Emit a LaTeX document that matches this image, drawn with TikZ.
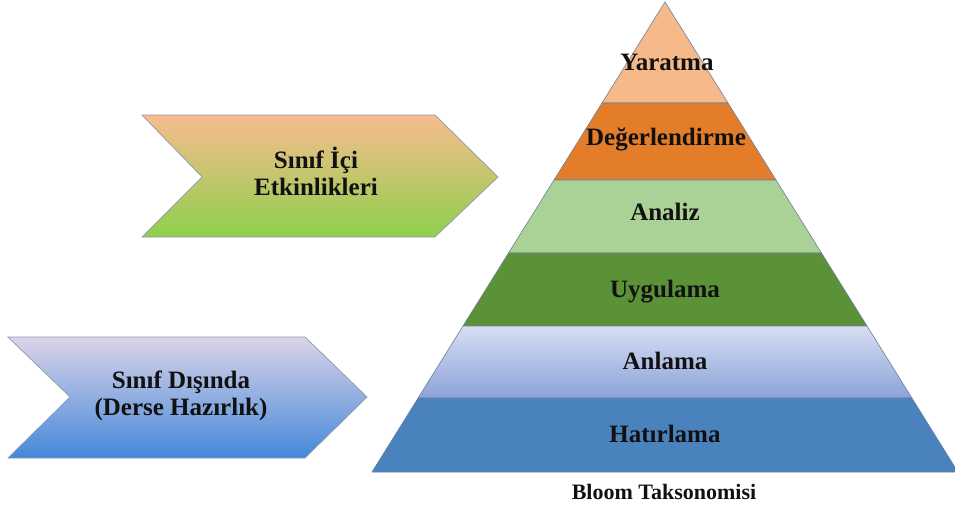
\documentclass[tikz,border=0pt]{standalone}
\usepackage{fontspec}
\setmainfont{Liberation Serif}
\usetikzlibrary{calc}
\definecolor{cYar}{HTML}{F6B98A}
\definecolor{cDeg}{HTML}{E37D2A}
\definecolor{cAna}{HTML}{ABD296}
\definecolor{cUyg}{HTML}{5B9137}
\definecolor{cAnlTop}{HTML}{D6DEF2}
\definecolor{cAnlBot}{HTML}{8CA2D8}
\definecolor{cHat}{HTML}{4A82BE}
\definecolor{cEdge}{HTML}{6F809C}
\definecolor{cGrTop}{HTML}{F8BC8E}
\definecolor{cGrBot}{HTML}{8ED04C}
\definecolor{cBlTop}{HTML}{DCD4E8}
\definecolor{cBlBot}{HTML}{4488DA}
\definecolor{cTxt}{HTML}{111111}
\tikzset{
  band/.style={draw=cEdge, line width=0.6pt, line join=miter},
  chevron/.style={draw=cEdge!80, line width=0.7pt, line join=miter},
  lbl/.style={font=\fontsize{25}{27}\selectfont\bfseries, text=cTxt, anchor=base, inner sep=0pt},
  arrlbl/.style={font=\fontsize{25}{27}\selectfont\bfseries, text=cTxt, align=center, inner sep=0pt},
  captionlbl/.style={font=\fontsize{22}{24}\selectfont\bfseries, text=cTxt, anchor=base, inner sep=0pt}
}
\begin{document}
\begin{tikzpicture}[x=1pt,y=-1pt]
\useasboundingbox (0,0) rectangle (955,509);
\fill[white] (0,0) rectangle (955,509);
% pyramid corners
\coordinate (ap) at (665,2);
\coordinate (l1) at (602.0,103);  \coordinate (r1) at (728.0,103);
\coordinate (l2) at (554.0,180);  \coordinate (r2) at (776.0,180);
\coordinate (l3) at (508.5,253);  \coordinate (r3) at (821.5,253);
\coordinate (l4) at (463.0,326);  \coordinate (r4) at (867.0,326);
\coordinate (l5) at (418.1,398);  \coordinate (r5) at (911.9,398);
\coordinate (l6) at (372.0,472);  \coordinate (r6) at (958.0,472);
% bands
\draw[band, fill=cYar] (ap) -- (r1) -- (l1) -- cycle;
\draw[band, fill=cDeg] (l1) -- (r1) -- (r2) -- (l2) -- cycle;
\draw[band, fill=cAna] (l2) -- (r2) -- (r3) -- (l3) -- cycle;
\draw[band, fill=cUyg] (l3) -- (r3) -- (r4) -- (l4) -- cycle;
\shade[top color=cAnlTop, bottom color=cAnlBot] (l4) -- (r4) -- (r5) -- (l5) -- cycle;
\draw[band] (l4) -- (r4) -- (r5) -- (l5) -- cycle;
\draw[band, fill=cHat] (l5) -- (r5) -- (r6) -- (l6) -- cycle;
% band labels
\node[lbl] (yar) at (667,70) {Yaratma};
\node[lbl] (deg) at (666,145) {Değerlendirme};
\node[lbl] (ana) at (665,220) {Analiz};
\node[lbl] (uyg) at (665,297) {Uygulama};
\node[lbl] (anl) at (665,369) {Anlama};
\node[lbl] (hat) at (665,442) {Hatırlama};
\node[captionlbl] (bloom) at (664,499) {Bloom Taksonomisi};
% green chevron
\coordinate (g1) at (142,115); \coordinate (g2) at (435,115);
\coordinate (g3) at (498,177); \coordinate (g4) at (435,237);
\coordinate (g5) at (142,237); \coordinate (g6) at (202,177);
\shade[top color=cGrTop, bottom color=cGrBot] (g1) -- (g2) -- (g3) -- (g4) -- (g5) -- (g6) -- cycle;
\draw[chevron] (g1) -- (g2) -- (g3) -- (g4) -- (g5) -- (g6) -- cycle;
\node[arrlbl] (sinif) at (316,171) {Sınıf İçi\\Etkinlikleri};
% blue chevron
\coordinate (b1) at (8,337);   \coordinate (b2) at (305,337);
\coordinate (b3) at (367,397); \coordinate (b4) at (305,458);
\coordinate (b5) at (8,458);   \coordinate (b6) at (70,397);
\shade[top color=cBlTop, bottom color=cBlBot] (b1) -- (b2) -- (b3) -- (b4) -- (b5) -- (b6) -- cycle;
\draw[chevron] (b1) -- (b2) -- (b3) -- (b4) -- (b5) -- (b6) -- cycle;
\node[arrlbl] (disinda) at (181,396) {Sınıf Dışında\\(Derse Hazırlık)};
\end{tikzpicture}
\end{document}
